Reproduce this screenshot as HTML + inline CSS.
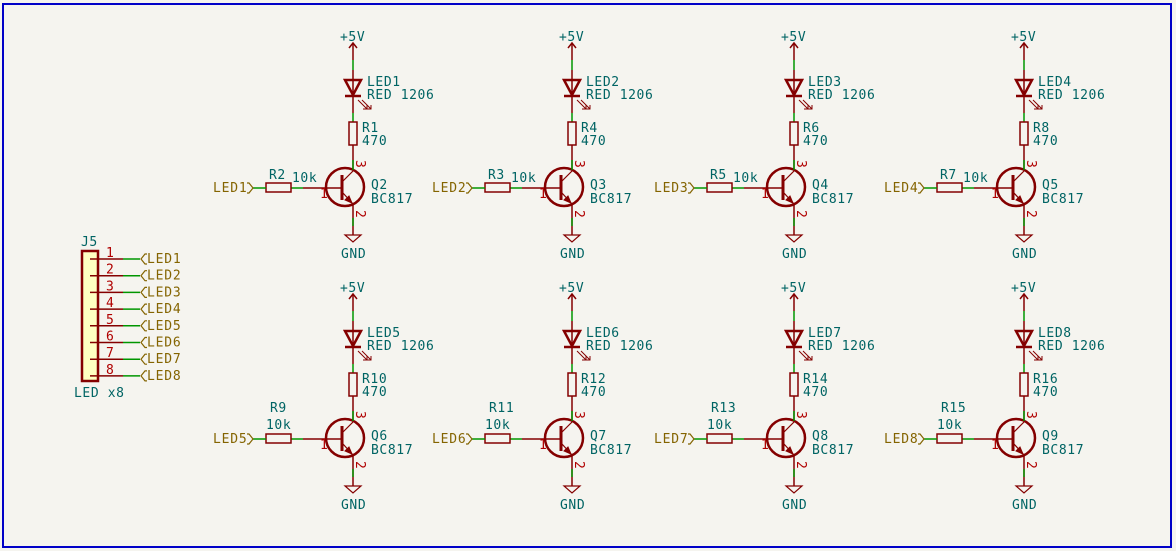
<!DOCTYPE html>
<html><head><meta charset="utf-8">
<style>
html,body{margin:0;padding:0;background:#f5f4ef;}
svg{display:block;font-family:"DejaVu Sans Mono","Liberation Mono",monospace;}
.t{fill:#006464;font-size:13px;letter-spacing:0.6px;}
.l{fill:#846400;font-size:13px;letter-spacing:0.8px;}
.p{fill:#b00000;font-size:13px;}
</style></head>
<body>
<svg id="sch" width="1176" height="551" viewBox="0 0 1176 551" xmlns="http://www.w3.org/2000/svg">
<rect x="3" y="4" width="1168" height="543" fill="none" stroke="#0000c8" stroke-width="2"/>
<g id="conn"></g>
<g id="cells"></g>
</svg>
<script>
const colX = [353, 572, 794, 1024];
const rowY = [0, 251];
const ledRefs = ["LED1","LED2","LED3","LED4","LED5","LED6","LED7","LED8"];
const rcRefs = ["R1","R4","R6","R8","R10","R12","R14","R16"];
const rbRefs = ["R2","R3","R5","R7","R9","R11","R13","R15"];
const qRefs = ["Q2","Q3","Q4","Q5","Q6","Q7","Q8","Q9"];
const pinNums = ["1","2","3","4","5","6","7","8"];
const NS="http://www.w3.org/2000/svg";
const R="#840000", G="#009600";
function mk(parent,tag,attrs,text){const e=document.createElementNS(NS,tag);for(const k in attrs)e.setAttribute(k,attrs[k]);if(text!==undefined)e.textContent=text;parent.appendChild(e);return e;}
const cells=document.getElementById('cells');
for(let i=0;i<8;i++){
  const x=colX[i%4], o=rowY[Math.floor(i/4)];
  const g=mk(cells,'g',{});
  
  
  const L=(x1,y1,x2,y2,c,w)=>mk(g,'line',{x1:x1,y1:y1+o,x2:x2,y2:y2+o,stroke:c,'stroke-width':w||1.5});
  const T=(tx,ty,s,cls,name)=>{const e=mk(g,'text',{x:tx,y:ty+o,class:cls},s);return e;};
  T(x-13,41,'+5V','t','power-label');
  mk(g,'polyline',{points:`${x-4},${48+o} ${x},${43+o} ${x+4},${48+o}`,fill:'none',stroke:R,'stroke-width':1.5});
  L(x,43,x,60,R);L(x,60,x,70,G);L(x,70,x,113,R);
  mk(g,'polygon',{points:`${x-8},${80+o} ${x+8},${80+o} ${x},${95+o}`,fill:'none',stroke:R,'stroke-width':2.5});
  L(x-8,96,x+8,96,R,2.5);
  L(x+5,100,x+14,109,R,1);L(x+9,100,x+18,109,R,1);
  mk(g,'polyline',{points:`${x+10},${109+o} ${x+14},${109+o} ${x+14},${105+o}`,fill:'none',stroke:R,'stroke-width':1});
  mk(g,'polyline',{points:`${x+14},${109+o} ${x+18},${109+o} ${x+18},${105+o}`,fill:'none',stroke:R,'stroke-width':1});
  L(x,113,x,122,G);
  T(x+14,86,ledRefs[i],'t','led-ref');
  T(x+14,99,'RED 1206','t','led-value');
  mk(g,'rect',{x:x-4,y:122+o,width:8,height:23,fill:'none',stroke:R,'stroke-width':1.5});
  L(x,145,x,170,R);
  T(x+9,132,rcRefs[i],'t','collector-resistor-ref');
  T(x+9,145,'470','t','collector-resistor-value');
  mk(g,'circle',{cx:x-8,cy:187+o,r:19,fill:'none',stroke:R,'stroke-width':2.5});
  L(x-11,175,x-11,200,R,3);
  L(x-10,181,x,171,R,1.2);
  L(x-10,193,x,204,R,1.2);
  mk(g,'polygon',{points:`${x-1},${203+o} ${x-8},${200+o} ${x-4},${196+o}`,fill:R,stroke:R});
  L(x,204,x,235,R);
  L(x,170,x,160,G);L(x,218,x,226,G);
  mk(g,'text',{x:x+3,y:160+o,class:'p',transform:`rotate(90 ${x+3} ${160+o})`},'3');
  mk(g,'text',{x:x+3,y:210+o,class:'p',transform:`rotate(90 ${x+3} ${210+o})`},'2');
  T(x+18,189,qRefs[i],'t','transistor-ref');
  T(x+18,203,'BC817','t','transistor-value');
  mk(g,'polygon',{points:`${x-8},${235+o} ${x+8},${235+o} ${x},${242+o}`,fill:'none',stroke:R,'stroke-width':1.2});
  T(x-12,258,'GND','t','ground-label');
  L(x-50,188,x-11,188,R);
  mk(g,'text',{x:x-33,y:198+o,class:'p'},'1');
  L(x-62,188,x-50,188,G);
  mk(g,'rect',{x:x-87,y:183+o,width:25,height:9,fill:'none',stroke:R,'stroke-width':1.5});
  L(x-100,188,x-87,188,G);
  mk(g,'polyline',{points:`${x-106},${183+o} ${x-104},${183+o} ${x-100},${188+o} ${x-104},${193+o} ${x-106},${193+o}`,fill:'none',stroke:'#846400','stroke-width':1.2});
  T(x-140,192,ledRefs[i],'l','net-label');
  if(o===0){T(x-84,179,rbRefs[i],'t','base-resistor-ref');T(x-61,182,'10k','t','base-resistor-value');}
  else{T(x-83,161,rbRefs[i],'t','base-resistor-ref');T(x-87,178,'10k','t','base-resistor-value');}
}
const c=document.getElementById('conn');
const J=(tag,a,t)=>mk(c,tag,a,t);
let e=J('rect',{x:82,y:251,width:16,height:130,fill:'#ffffc2',stroke:R,'stroke-width':2.5});
e=J('text',{x:81,y:246,class:'t'},'J5');
e=J('text',{x:74,y:397,class:'t'},'LED x8');
for(let k=0;k<8;k++){
  const y=259+k*16.7;
  const t=mk(c,'text',{x:106,y:y-2,class:'p'},pinNums[k]);
  
  
  mk(c,'line',{x1:90,y1:y,x2:123,y2:y,stroke:R,'stroke-width':1.5});
  mk(c,'line',{x1:123,y1:y,x2:140,y2:y,stroke:G,'stroke-width':1.5});
  mk(c,'polyline',{points:`${147},${y-5} ${145},${y-5} ${141},${y} ${145},${y+5} ${147},${y+5}`,fill:'none',stroke:'#846400','stroke-width':1.2});
  const n=mk(c,'text',{x:147,y:y+4,class:'l'},ledRefs[k]);
  
  
}
</script>
</body></html>
